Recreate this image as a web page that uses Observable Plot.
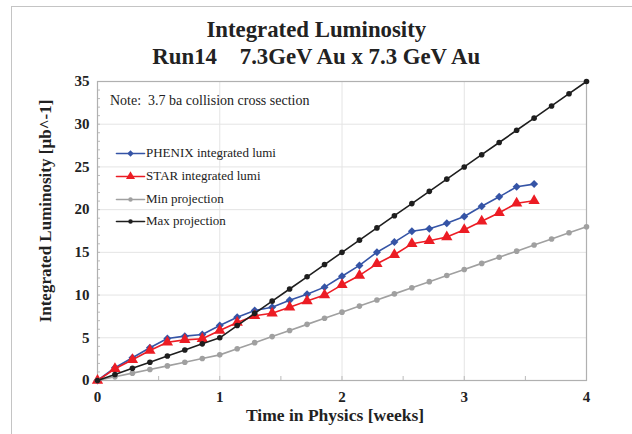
<!DOCTYPE html>
<html><head><meta charset="utf-8">
<script src="https://cdn.jsdelivr.net/npm/d3@7"></script>
<script src="https://cdn.jsdelivr.net/npm/@observablehq/plot@0.6"></script>
<style>
html,body{margin:0;padding:0;background:#fff;}
#page{position:relative;width:632px;height:434px;overflow:hidden;font-family:"Liberation Serif","Times New Roman",serif;}
#frame{position:absolute;left:11px;top:6px;width:700px;height:500px;border-top:1.5px solid #c4c4c4;border-left:1.5px solid #c4c4c4;}
.t{position:absolute;left:0;width:632px;text-align:center;font-weight:bold;font-size:24px;color:#222;white-space:pre;transform:scaleX(0.95);transform-origin:322px 0;}
#chart{position:absolute;left:0;top:70px;}
#note{position:absolute;left:110px;top:93px;font-size:14px;color:#222;white-space:pre;}
#legend{position:absolute;left:116px;top:142px;}
.li{display:flex;align-items:center;height:22.7px;font-size:13px;color:#222;white-space:pre;}
.li svg{margin-right:2px;}
</style></head>
<body>
<div id="page">
  <div id="frame"></div>
  <div class="t" style="top:16px;">Integrated Luminosity</div>
  <div class="t" style="top:43px;">Run14    7.3GeV Au x 7.3 GeV Au</div>
  <div id="chart"></div>
  <div id="note">Note:  3.7 ba collision cross section</div>
  <div id="legend"></div>
</div>
<script>
// Days in physics (x = day / 7 weeks)
const daysMeasured = [0,1,2,3,4,5,6,7,8,9,10,11,12,13,14,15,16,17,18,19,20,21,22,23,24,25];
const daysProjection = [0,1,2,3,4,5,6,7,8,9,10,11,12,13,14,15,16,17,18,19,20,21,22,23,24,25,26,27,28];
const phenix = [0,1.49,2.66,3.83,4.92,5.19,5.39,6.44,7.41,8.2,8.58,9.4,10.1,10.93,12.2,13.47,15.02,16.2,17.48,17.76,18.4,19.2,20.4,21.5,22.67,22.99];
const star = [0,1.37,2.42,3.51,4.48,4.76,4.88,5.85,6.79,7.57,7.88,8.58,9.3,10.0,11.2,12.3,13.66,14.72,16.0,16.35,16.8,17.64,18.65,19.63,20.75,21.05];
const minProj = [0,0.43,0.86,1.29,1.71,2.14,2.57,3.0,3.71,4.43,5.14,5.86,6.57,7.29,8.0,8.71,9.43,10.14,10.86,11.57,12.29,13.0,13.71,14.43,15.14,15.86,16.57,17.29,18.0];
const maxProj = [0,0.71,1.43,2.14,2.86,3.57,4.29,5.0,6.43,7.86,9.29,10.71,12.14,13.57,15.0,16.43,17.86,19.29,20.71,22.14,23.57,25.0,26.43,27.86,29.29,30.71,32.14,33.57,35.0];
const seriesNames = ["PHENIX integrated lumi","STAR integrated lumi","Min projection","Max projection"];
const seriesColors = ["#3554a6","#ec1c24","#a0a0a0","#1e1e1e"];
const seriesSymbols = ["diamond2","triangle","circle","circle"];
const seriesR = [3.6,4.2,2.8,2.8];
const xTicks = [0,1,2,3,4];
const yTicks = [0,5,10,15,20,25,30,35];
const yLabel = "Integrated Luminosity [µb^-1]";
const xLabel = "Time in Physics [weeks]";

const seriesValues = [phenix, star, minProj, maxProj];
const seriesDays = [daysMeasured, daysMeasured, daysProjection, daysProjection];
const rows = [];
seriesNames.forEach((s, i) => seriesValues[i].forEach((v, j) => rows.push({series: s, week: seriesDays[i][j] / 7, value: v, idx: i})));

const marks = [
  Plot.gridY(yTicks.slice(1, -1), {stroke: "#e4e4e4", strokeOpacity: 1, strokeWidth: 1}),
  Plot.gridX(xTicks.slice(1, -1), {stroke: "#e4e4e4", strokeOpacity: 1, strokeWidth: 1}),
  Plot.axisY(d3.range(0, 36), {tickSize: -3, text: null, stroke: "#bbb", label: null}),
  Plot.axisX(d3.range(0, 4.01, 0.5), {tickSize: -4, text: null, stroke: "#bbb", label: null}),
  Plot.axisY(yTicks, {tickSize: 0, tickPadding: 8, fontSize: 15, fontWeight: "bold", fill: "#222", label: null, tickFormat: d => String(d)}),
  Plot.axisX(xTicks, {tickSize: 0, tickPadding: 11, fontSize: 15, fontWeight: "bold", fill: "#222", label: null, tickFormat: d => String(d)}),
  Plot.frame({stroke: "#b0b0b0", strokeWidth: 1.2}),
  Plot.text([yLabel], {frameAnchor: "left", textAnchor: "middle", dx: -52, dy: -20, rotate: -90, fontSize: 17, fontWeight: "bold", fill: "#222"}),
  Plot.text([xLabel], {frameAnchor: "bottom", textAnchor: "middle", dx: -7, dy: 40, fontSize: 17.5, fontWeight: "bold", fill: "#222"})
];
seriesNames.forEach((s, i) => {
  const d = rows.filter(r => r.idx === i);
  marks.push(Plot.line(d, {x: "week", y: "value", stroke: seriesColors[i], strokeWidth: 1.6}));
  marks.push(Plot.dot(d, {x: "week", y: "value", fill: seriesColors[i], stroke: "none", symbol: () => seriesSymbols[i], r: seriesR[i]}));
});

const chart = Plot.plot({
  width: 632, height: 364,
  marginTop: 11, marginLeft: 97, marginRight: 46, marginBottom: 54,
  style: {fontFamily: "Liberation Serif, Times New Roman, serif", background: "transparent", overflow: "visible"},
  x: {domain: [0, 4], axis: null},
  y: {domain: [0, 35], axis: null},
  symbol: {type: "identity"},
  marks
});
document.getElementById("chart").appendChild(chart);

// Legend
const leg = document.getElementById("legend");
seriesNames.forEach((s, i) => {
  const div = document.createElement("div");
  div.className = "li";
  const sw = Plot.plot({
    width: 28, height: 12, margin: 0,
    x: {domain: [0, 2], axis: null}, y: {domain: [0, 1], axis: null},
    symbol: {type: "identity"},
    style: {background: "transparent", overflow: "visible"},
    marks: [
      Plot.line([{x: 0, y: 0.5}, {x: 2, y: 0.5}], {x: "x", y: "y", stroke: seriesColors[i], strokeWidth: 1.6}),
      Plot.dot([{x: 1, y: 0.5}], {x: "x", y: "y", fill: seriesColors[i], symbol: () => seriesSymbols[i], r: seriesR[i] * 0.8})
    ]
  });
  div.appendChild(sw);
  const span = document.createElement("span");
  span.textContent = s;
  div.appendChild(span);
  leg.appendChild(div);
});
</script>
</body></html>
